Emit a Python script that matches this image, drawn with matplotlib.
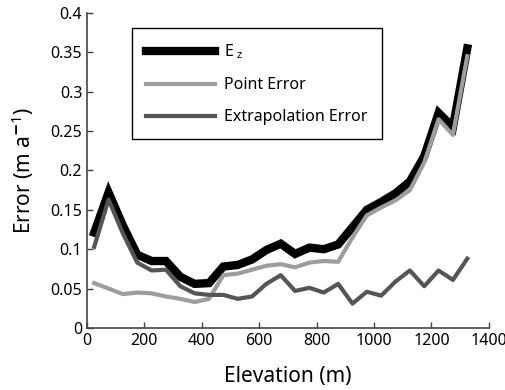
import matplotlib.pyplot as plt
import numpy as np

plt.rcParams['font.family'] = ['Noto Sans', 'DejaVu Sans']
plt.rcParams['mathtext.fontset'] = 'custom'
plt.rcParams['mathtext.rm'] = 'Noto Sans'
plt.rcParams['mathtext.it'] = 'Noto Sans'

# elevation bins (m)
elevation = [25, 75, 125, 175, 225, 275, 325, 375, 425, 475, 525, 575, 625, 675,
             725, 775, 825, 875, 925, 975, 1025, 1075, 1125, 1175, 1225, 1275, 1325]

ez = [0.121, 0.172, 0.130, 0.093, 0.085, 0.085, 0.065, 0.056, 0.057, 0.078, 0.080,
      0.087, 0.099, 0.107, 0.094, 0.102, 0.100, 0.106, 0.128, 0.150, 0.160, 0.171,
      0.186, 0.218, 0.273, 0.255, 0.355]

point_err = [0.057, 0.050, 0.043, 0.045, 0.044, 0.040, 0.037, 0.033, 0.037, 0.067,
             0.069, 0.074, 0.079, 0.081, 0.077, 0.083, 0.085, 0.084, 0.115, 0.143,
             0.153, 0.162, 0.175, 0.210, 0.265, 0.245, 0.345]

extrap_err = [0.103, 0.163, 0.120, 0.083, 0.073, 0.074, 0.053, 0.044, 0.042, 0.042,
              0.037, 0.040, 0.056, 0.067, 0.047, 0.051, 0.045, 0.056, 0.031, 0.046,
              0.041, 0.059, 0.073, 0.053, 0.073, 0.061, 0.088]

fig = plt.figure(figsize=(5.06, 3.90), dpi=100)
ax = fig.add_axes([0.172, 0.159, 0.794, 0.808])

ax.plot(elevation, ez, color='black', lw=6, solid_joinstyle='miter', label='E$_{\\,\\,z}$')
ax.plot(elevation, point_err, color='#9d9d9d', lw=3, label='Point Error')
ax.plot(elevation, extrap_err, color='#555555', lw=3, label='Extrapolation Error')

ax.set_xlim(0, 1400)
ax.set_ylim(0, 0.4)
ax.set_xticks(np.arange(0, 1401, 200))
ax.set_yticks(np.arange(0, 0.41, 0.05))
ax.set_yticklabels(['0', '0.05', '0.1', '0.15', '0.2', '0.25', '0.3', '0.35', '0.4'])

for s in ['top', 'right']:
    ax.spines[s].set_visible(False)
for s in ['left', 'bottom']:
    ax.spines[s].set_color('#444444')
    ax.spines[s].set_linewidth(1.2)
ax.tick_params(direction='in', length=4, width=1, color='#444444', labelsize=11.5)

ax.set_xlabel('Elevation (m)', fontsize=15, labelpad=12)
ax.set_ylabel('Error (m a$^{\\mathbf{-}1}$)', fontsize=15, labelpad=10)

leg = ax.legend(loc='upper left', bbox_to_anchor=(0.261, 0.928), bbox_transform=fig.transFigure,
                fancybox=False, edgecolor='black', fontsize=11.5, handlelength=4.3,
                handletextpad=0.55, borderaxespad=0, borderpad=0.9, labelspacing=1.0,
                framealpha=1)
leg.get_frame().set_linewidth(1.0)

fig.savefig('out.png', dpi=100)
